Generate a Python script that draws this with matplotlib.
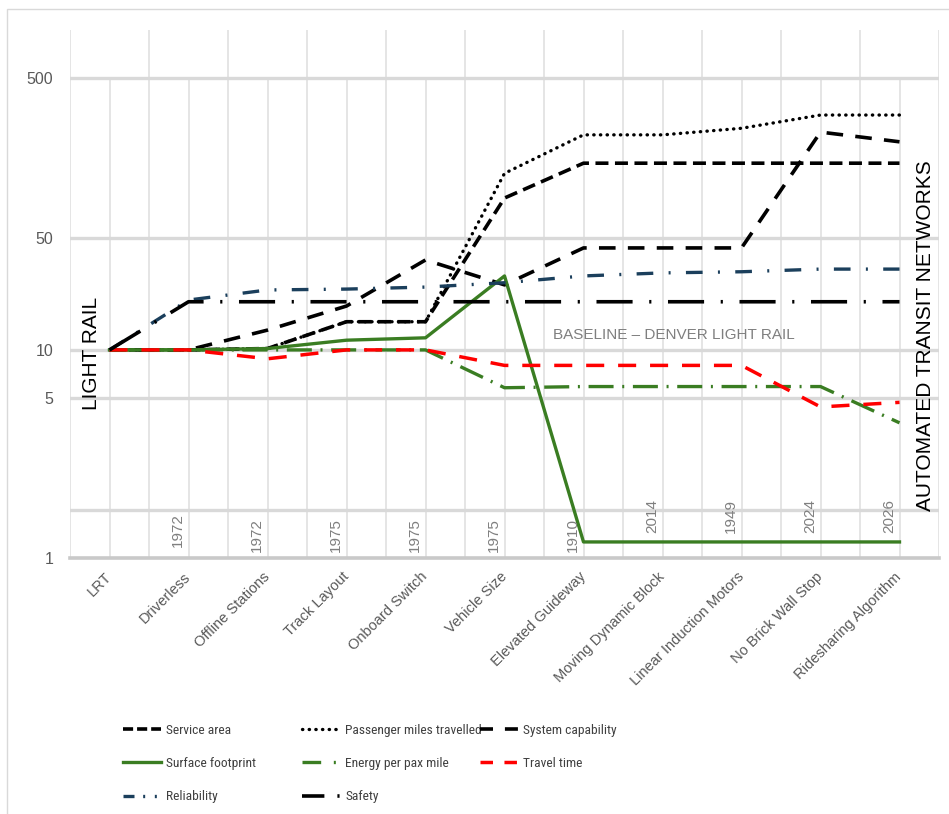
#!/usr/bin/env python3
"""Light rail vs automated transit networks: innovation step chart."""

import matplotlib
matplotlib.use("Agg")
import matplotlib.pyplot as plt
import matplotlib.transforms as mtransforms
from matplotlib import font_manager
from matplotlib.lines import Line2D
from matplotlib.patches import Rectangle
from matplotlib.ticker import NullLocator
import numpy as np


CATEGORIES = [
    "LRT", "Driverless", "Offline Stations", "Track Layout", "Onboard Switch",
    "Vehicle Size", "Elevated Guideway", "Moving Dynamic Block",
    "Linear Induction Motors", "No Brick Wall Stop", "Ridesharing Algorithm",
]
YEARS = ["", "1972", "1972", "1975", "1975", "1975", "1910", "2014", "1949", "2024", "2026"]

SERVICE_AREA = [10, 10, 10.2, 15, 15, 89, 147, 147, 147, 147, 147]
PASSENGER_MILES = [10, 10, 10.2, 15, 15, 127, 221, 221, 243, 294, 294]
SYSTEM_CAPABILITY = [10, 10, 13.3, 18.8, 36.5, 25.5, 43.4, 43.4, 43.4, 230, 200]
SURFACE_FOOTPRINT = [10, 10, 10.2, 11.5, 11.9, 29, 0.63, 0.63, 0.63, 0.63, 0.63]
ENERGY_PER_PAX = [10, 10, 10, 10, 10, 5.8, 5.9, 5.9, 5.9, 5.9, 3.5]
TRAVEL_TIME = [10, 10, 8.8, 10, 10, 8.0, 8.0, 8.0, 8.0, 4.4, 4.7]
RELIABILITY = [10, 20.5, 23.7, 24, 24.7, 26.3, 29, 30.3, 30.8, 32, 32]
SAFETY = [10, 20, 20, 20, 20, 20, 20, 20, 20, 20, 20]

Y_TICKS = [0.5, 5, 10, 50, 500]
Y_TICK_LABELS = ["1", "5", "10", "50", "500"]
Y_GRID = [1, 5, 10, 50, 500]

BLACK = "#000000"
GREEN = "#3A7D22"
RED = "#FF0000"
NAVY = "#1B3F5C"
TEXT_GREY = "#595959"
LIGHT_TEXT = "#7F7F7F"
HGRID = "#D9D9D9"
VGRID = "#E3E3E3"


def pick_font(candidates, fallback):
  available = {f.name for f in font_manager.fontManager.ttflist}
  for name in candidates:
    if name in available:
      return name
  return fallback


BASE_FONT = pick_font(["Liberation Sans", "Arimo"], "DejaVu Sans")
NARROW_FONT = pick_font(
    ["Roboto Condensed", "Archivo Narrow", "PT Sans Narrow", "Fira Sans Condensed",
     "IBM Plex Sans Condensed", "Liberation Sans Narrow", "Arial Narrow"],
    None)
plt.rcParams["font.family"] = [BASE_FONT, "DejaVu Sans"]
if NARROW_FONT:
  LEGEND_PROP = {"family": [NARROW_FONT, "DejaVu Sans"], "size": 9.7}
else:
  LEGEND_PROP = {"family": [BASE_FONT, "DejaVu Sans"], "size": 8.6}

# name, values, colour, width, line dashes, legend-sample dashes
SERIES = [
    ("Service area", SERVICE_AREA, BLACK, 2.6, (0, (3.6, 1.8)), (0, (2.8, 1.1))),
    ("Passenger miles travelled", PASSENGER_MILES, BLACK, 2.4, (0, (0.1, 1.9)), (0, (0.1, 1.9))),
    ("System capability", SYSTEM_CAPABILITY, BLACK, 2.6, (0, (4.6, 3.4)), (0, (3.6, 3.3))),
    ("Surface footprint", SURFACE_FOOTPRINT, GREEN, 2.4, "solid", "solid"),
    ("Energy per pax mile", ENERGY_PER_PAX, GREEN, 2.4, (0, (7.5, 2.6, 0.6, 2.6)),
     (0, (5.6, 3.8, 0.6, 3.0))),
    ("Travel time", TRAVEL_TIME, RED, 2.5, (0, (5.2, 4.0)), (0, (3.6, 3.3))),
    ("Reliability", RELIABILITY, NAVY, 2.4, (0, (5.0, 4.6, 0.6, 4.6)),
     (0, (3.3, 2.6, 0.6, 2.9, 0.6, 3.0))),
    ("Safety", SAFETY, BLACK, 2.6, (0, (10.0, 4.6, 0.6, 4.6)), (0, (6.2, 3.6, 0.6, 4.0))),
]

fig = plt.figure(figsize=(9.49, 8.14), dpi=100)
fig.patch.set_facecolor("white")
fig.patches.append(Rectangle((7 / 949, -0.05), 1.2, 1 - 9 / 814 + 0.05,
                             transform=fig.transFigure, fill=False,
                             edgecolor="#D9D9D9", lw=1.0))

ax = fig.add_axes([70 / 949, 256 / 814, 869 / 949, 528 / 814])
x = np.arange(len(CATEGORIES))
ax.set_yscale("log")
ax.set_xlim(-0.5, len(CATEGORIES) - 0.5)
ax.set_ylim(0.5, 1000)

# gridlines: boundaries run full height, category lines stop at 500
for xb in np.arange(-0.5, len(CATEGORIES), 1.0):
  ax.axvline(xb, color=VGRID, lw=1.3, zorder=0)
ax.vlines(x, 0.5, 500, color=VGRID, lw=1.3, zorder=0)
for yv in Y_GRID:
  ax.axhline(yv, color=HGRID, lw=2.4, zorder=0)

for side in ("top", "right", "left"):
  ax.spines[side].set_visible(False)
ax.spines["bottom"].set_color("#C9C9C9")
ax.spines["bottom"].set_linewidth(2.6)

handles = {}
for name, values, color, lw, style, sample in SERIES:
  cap = "round" if "Passenger" in name else "butt"
  ax.plot(x, values, color=color, lw=lw, linestyle=style,
          dash_capstyle=cap, zorder=3)
  handles[name] = Line2D([], [], color=color, lw=lw, linestyle=sample,
                         dash_capstyle=cap)

ax.set_xticks(x)
ax.set_xticklabels(CATEGORIES, rotation=45, ha="right", va="center",
                   rotation_mode="anchor", color=TEXT_GREY, fontsize=10.5)
ax.yaxis.set_minor_locator(NullLocator())
ax.set_yticks(Y_TICKS)
ax.set_yticklabels(Y_TICK_LABELS, color=TEXT_GREY, fontsize=11.5)
ax.tick_params(axis="x", length=0, pad=12)
ax.tick_params(axis="y", length=0, pad=12)

trans = mtransforms.blended_transform_factory(ax.transData, ax.transAxes)
for i, year in enumerate(YEARS):
  if not year:
    continue
  y0 = 0.047 if i >= 7 else (0.021 if i == 1 else 0.012)
  ax.text(i - 0.13, y0, year, transform=trans, rotation=90, ha="center",
          va="bottom", color=LIGHT_TEXT, fontsize=11)

ax.text(0.0253, 0.388, "LIGHT RAIL", transform=ax.transAxes, rotation=90,
        ha="center", va="center", fontsize=15, color=BLACK)
ax.text(0.984, 0.422, "AUTOMATED TRANSIT NETWORKS", transform=ax.transAxes,
        rotation=90, ha="center", va="center", fontsize=15, color=BLACK)
ax.text(0.556, 0.422, "BASELINE \u2013 DENVER LIGHT RAIL", transform=ax.transAxes,
        ha="left", va="center", fontsize=11, color=LIGHT_TEXT)

columns = [
    (123, ["Service area", "Surface footprint", "Reliability"]),
    (302, ["Passenger miles travelled", "Energy per pax mile", "Safety"]),
    (480, ["System capability", "Travel time"]),
]
for left_px, names in columns:
  leg = fig.legend([handles[n] for n in names], names,
                   loc="upper left", bbox_to_anchor=(left_px / 949, 1 - 724 / 814),
                   frameon=False, borderpad=0, borderaxespad=0,
                   handlelength=2.8, handletextpad=0.4, labelspacing=1.5,
                   prop=LEGEND_PROP)
  for t in leg.get_texts():
    t.set_color("#404040")

fig.savefig("out.png", dpi=100)
